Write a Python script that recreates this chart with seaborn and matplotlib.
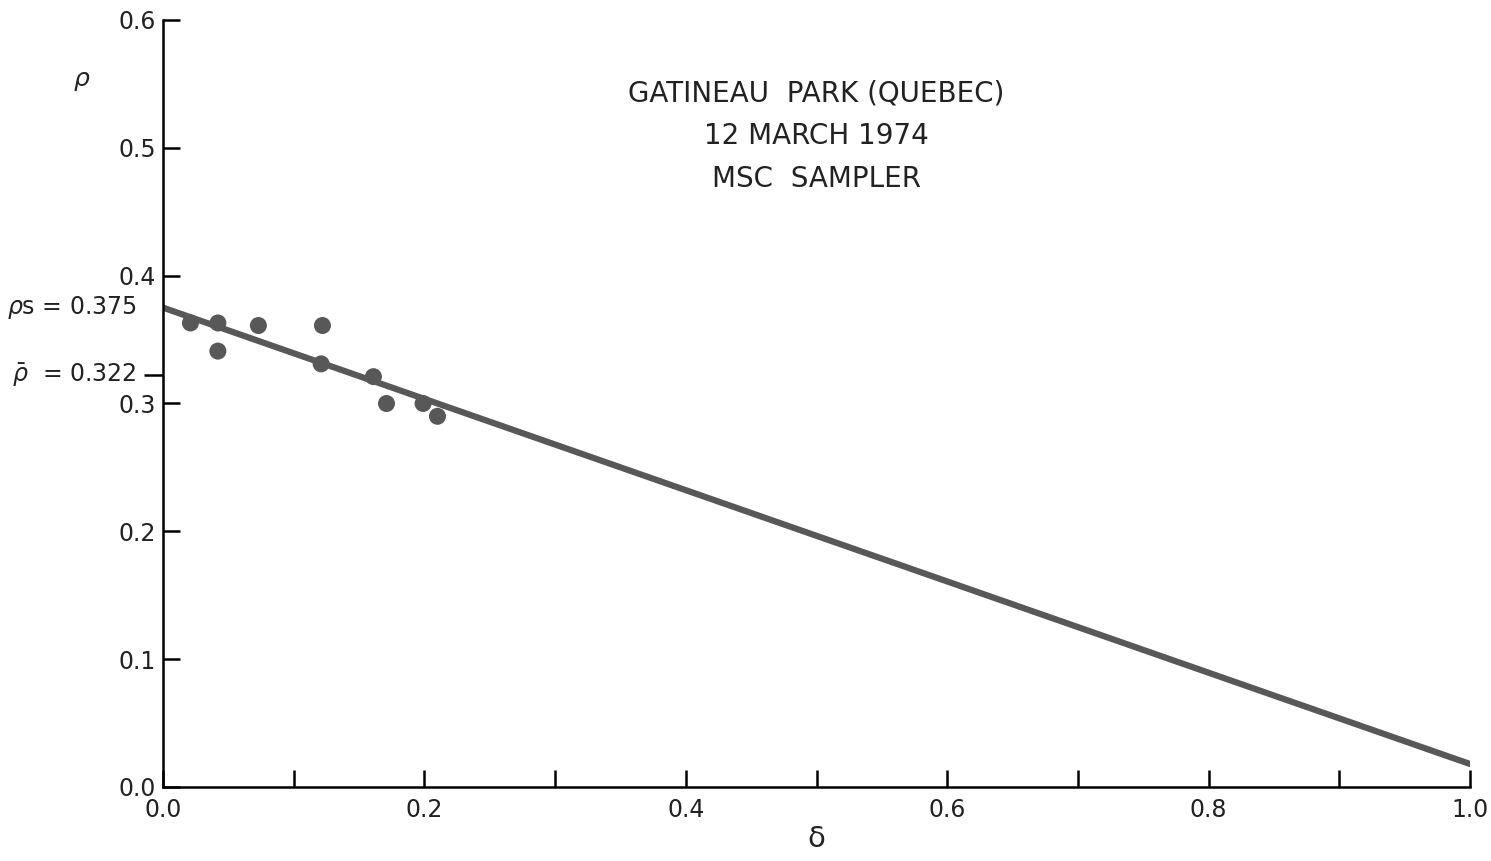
import matplotlib
matplotlib.use("Agg")
import matplotlib.pyplot as plt
import matplotlib.transforms as mtransforms
import seaborn as sns
import pandas as pd
import numpy as np

# ---- data ----
delta = [0.021, 0.042, 0.042, 0.073, 0.122, 0.121, 0.161, 0.171, 0.199, 0.210]
rho = [0.363, 0.363, 0.341, 0.361, 0.361, 0.331, 0.321, 0.300, 0.300, 0.290]
fit_delta = [0.0, 1.0]
fit_rho = [0.375, 0.018]
rho_s = 0.375
rho_bar = 0.322
x_ticks = [0.0, 0.1, 0.2, 0.3, 0.4, 0.5, 0.6, 0.7, 0.8, 0.9, 1.0]
x_labels = ["0.0", "", "0.2", "", "0.4", "", "0.6", "", "0.8", "", "1.0"]
y_ticks = [0.0, 0.1, 0.2, 0.3, 0.4, 0.5, 0.6]
y_labels = ["0.0", "0.1", "0.2", "0.3", "0.4", "0.5", "0.6"]
title_lines = ["GATINEAU  PARK (QUEBEC)", "12 MARCH 1974", "MSC  SAMPLER"]

sns.set_style("white")
plt.rcParams["font.family"] = ["DejaVu Sans"]

fig = plt.figure(figsize=(14.91, 8.61), dpi=100)
ax = fig.add_axes([163 / 1491, 1 - 787 / 861, (1470 - 163) / 1491, (787 - 20) / 861])

gray = "#585858"
pts = pd.DataFrame({"delta": delta, "rho": rho})
fit = pd.DataFrame({"delta": fit_delta, "rho": fit_rho})
sns.lineplot(data=fit, x="delta", y="rho", ax=ax, color=gray, linewidth=4.5, zorder=2)
sns.scatterplot(data=pts, x="delta", y="rho", ax=ax, color=gray, s=150,
                edgecolor="none", zorder=3)

ax.set_xlim(0, 1.0)
ax.set_ylim(0, 0.6)
for side in ["top", "right"]:
    ax.spines[side].set_visible(False)
for side in ["left", "bottom"]:
    ax.spines[side].set_color("black")
    ax.spines[side].set_linewidth(1.8)

ax.set_xticks(x_ticks)
ax.set_xticklabels(x_labels)
ax.set_yticks(y_ticks)
ax.set_yticklabels(y_labels)
ax.tick_params(axis="both", which="major", direction="in", length=12, width=1.8,
               labelsize=17, color="black", labelcolor="#222222",
               bottom=True, left=True)
ax.tick_params(axis="x", which="major", pad=8)
ax.tick_params(axis="y", which="major", pad=5)

# outward tick marking the mean density
ax.set_yticks([rho_bar], minor=True)
ax.tick_params(axis="y", which="minor", direction="out", length=14, width=1.8,
               color="black", left=True, labelleft=False)

trans = mtransforms.blended_transform_factory(ax.transAxes, ax.transData)
ax.text(-0.02, rho_s, r"$\rho$s = 0.375", transform=trans, ha="right", va="center",
        fontsize=17, color="#222222")
ax.text(-0.02, rho_bar, r"$\bar{\rho}$  = 0.322", transform=trans, ha="right", va="center",
        fontsize=17, color="#222222")

ax.set_xlabel("δ", fontsize=21, labelpad=2, color="#222222")
ax.set_ylabel("")
ax.text(-0.062, 0.92, r"$\rho$", transform=ax.transAxes, fontsize=18,
        ha="center", va="center", color="#222222")

for i, line in enumerate(title_lines):
    ax.text(0.5, 0.904 - i * 0.0555, line, transform=ax.transAxes, ha="center",
            va="center", fontsize=20, color="#222222")

ax.grid(False)
fig.savefig("out.png", dpi=100)
